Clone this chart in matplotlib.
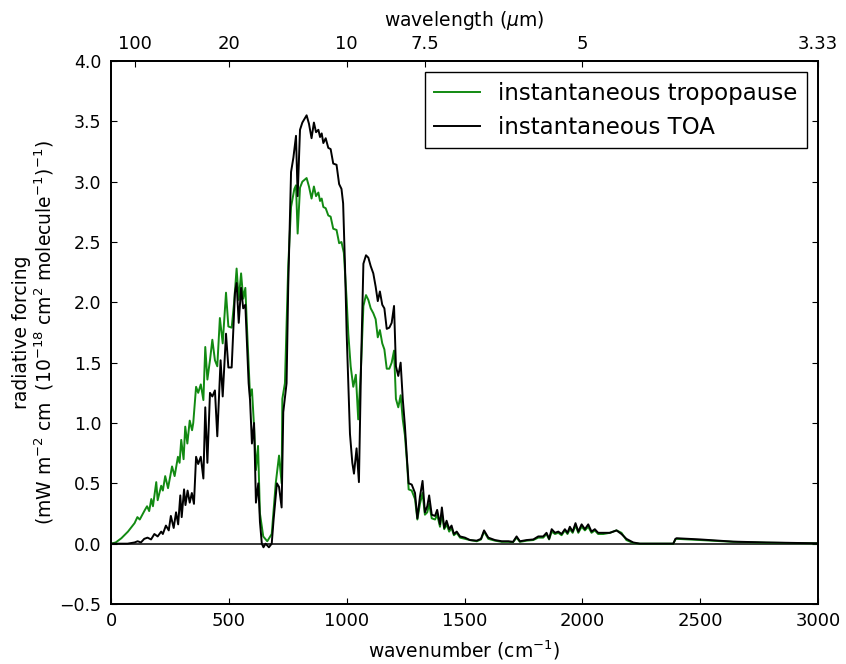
import matplotlib
matplotlib.use("Agg")
import matplotlib.pyplot as plt
import numpy as np

# ---- data ----
wn_trop = [0, 20, 44, 72, 100, 112, 122, 133, 144, 153, 162, 171, 178, 192, 198, 213, 220, 230, 242,
           259, 270, 284, 291, 298, 308, 315, 324, 334, 344, 349, 361, 370, 381, 392, 400, 409, 420,
           430, 441, 451, 462, 474, 488, 498, 512, 522, 533, 542, 552, 561, 570, 578, 590, 598, 607,
           615, 624, 632, 646, 663, 682, 699, 713, 724, 727, 738, 752, 764, 778, 785, 792, 802, 812,
           830, 840, 851, 861, 870, 880, 887, 894, 901, 911, 922, 932, 943, 957, 968, 978, 988, 1000,
           1007, 1017, 1028, 1039, 1049, 1061, 1071, 1082, 1092, 1102, 1113, 1123, 1132, 1141, 1151,
           1160, 1170, 1181, 1191, 1201, 1209, 1219, 1229, 1238, 1247, 1257, 1263, 1276, 1290, 1300,
           1311, 1322, 1332, 1342, 1350, 1361, 1375, 1384, 1396, 1404, 1414, 1424, 1435, 1445, 1455,
           1467, 1481, 1502, 1523, 1552, 1570, 1583, 1601, 1629, 1658, 1686, 1706, 1721, 1735, 1764,
           1792, 1813, 1834, 1848, 1859, 1870, 1884, 1898, 1912, 1926, 1937, 1947, 1959, 1971, 1983,
           1997, 2011, 2025, 2039, 2053, 2067, 2089, 2117, 2145, 2166, 2187, 2216, 2244, 2300, 2386,
           2395, 2400, 2500, 2640, 2780, 2920, 3000]
rf_trop = [0.0, 0.01, 0.045, 0.10, 0.17, 0.22, 0.20, 0.24, 0.28, 0.31, 0.27, 0.37, 0.31, 0.51, 0.36,
           0.48, 0.44, 0.56, 0.46, 0.64, 0.56, 0.72, 0.67, 0.86, 0.70, 0.97, 0.83, 1.02, 0.94, 1.00,
           1.30, 1.25, 1.32, 1.19, 1.63, 1.36, 1.52, 1.69, 1.52, 1.47, 1.87, 1.66, 2.08, 1.80, 1.79,
           1.99, 2.28, 2.02, 2.24, 2.03, 2.12, 1.75, 1.22, 1.28, 0.97, 0.61, 0.81, 0.25, 0.06, 0.02,
           0.08, 0.50, 0.73, 0.50, 1.20, 1.33, 2.30, 2.79, 2.94, 2.97, 2.57, 2.95, 3.00, 3.03, 2.96,
           2.86, 2.96, 2.88, 2.91, 2.84, 2.86, 2.79, 2.78, 2.72, 2.71, 2.61, 2.60, 2.49, 2.50, 2.41,
           2.02, 1.74, 1.47, 1.30, 1.40, 1.03, 1.47, 1.97, 2.06, 2.02, 1.95, 1.91, 1.86, 1.71, 1.77,
           1.66, 1.61, 1.45, 1.45, 1.50, 1.60, 1.20, 1.13, 1.23, 1.03, 0.90, 0.65, 0.45, 0.44, 0.37,
           0.20, 0.33, 0.42, 0.24, 0.26, 0.33, 0.21, 0.20, 0.24, 0.14, 0.25, 0.12, 0.16, 0.10, 0.13,
           0.07, 0.09, 0.05, 0.04, 0.03, 0.02, 0.035, 0.10, 0.04, 0.025, 0.015, 0.015, 0.012, 0.05,
           0.015, 0.025, 0.03, 0.05, 0.05, 0.08, 0.035, 0.10, 0.08, 0.09, 0.07, 0.11, 0.08, 0.12,
           0.09, 0.15, 0.09, 0.14, 0.11, 0.14, 0.09, 0.11, 0.08, 0.08, 0.09, 0.11, 0.09, 0.03, 0.005,
           0.0, 0.0, 0.0, 0.035, 0.04, 0.03, 0.015, 0.008, 0.004, 0.003]

wn_toa = [0, 70, 100, 113, 127, 141, 155, 170, 184, 198, 213, 220, 233, 245, 254, 266, 276, 285, 294,
          300, 310, 316, 325, 334, 343, 352, 361, 370, 381, 392, 400, 409, 420, 430, 441, 451, 465,
          474, 488, 498, 512, 526, 533, 542, 552, 561, 570, 584, 590, 598, 607, 615, 625, 632, 640,
          647, 656, 670, 682, 690, 704, 713, 724, 731, 745, 752, 764, 774, 785, 792, 802, 812, 830,
          840, 851, 861, 870, 880, 887, 894, 901, 911, 922, 932, 943, 957, 968, 978, 985, 993, 1000,
          1007, 1014, 1024, 1031, 1042, 1052, 1061, 1071, 1082, 1092, 1102, 1113, 1123, 1132, 1141,
          1151, 1160, 1170, 1181, 1191, 1201, 1209, 1219, 1229, 1238, 1247, 1257, 1263, 1276, 1290,
          1300, 1311, 1322, 1332, 1342, 1350, 1361, 1375, 1384, 1396, 1404, 1414, 1424, 1435, 1445,
          1455, 1467, 1481, 1502, 1523, 1552, 1570, 1583, 1601, 1629, 1658, 1686, 1706, 1721, 1735,
          1764, 1792, 1813, 1834, 1848, 1859, 1870, 1884, 1898, 1912, 1926, 1937, 1947, 1959, 1971,
          1983, 1997, 2011, 2025, 2039, 2053, 2067, 2089, 2117, 2145, 2166, 2187, 2216, 2244, 2300,
          2386, 2395, 2400, 2500, 2640, 2780, 2920, 3000]
rf_toa = [0.0, 0.0, 0.01, 0.02, 0.01, 0.04, 0.05, 0.035, 0.08, 0.06, 0.10, 0.08, 0.15, 0.11, 0.23,
          0.13, 0.26, 0.16, 0.40, 0.22, 0.45, 0.32, 0.44, 0.34, 0.42, 0.33, 0.72, 0.66, 0.72, 0.54,
          1.13, 0.67, 1.25, 1.22, 1.27, 0.89, 1.52, 1.22, 1.74, 1.46, 1.46, 2.08, 2.16, 1.83, 2.12,
          1.95, 1.98, 1.33, 1.19, 0.83, 1.00, 0.34, 0.50, 0.18, 0.0, -0.03, 0.0, -0.03, 0.0, 0.20,
          0.50, 0.47, 0.30, 1.09, 1.33, 2.13, 3.08, 3.20, 3.38, 2.88, 3.43, 3.49, 3.55, 3.48, 3.36,
          3.49, 3.41, 3.43, 3.37, 3.40, 3.32, 3.36, 3.28, 3.27, 3.15, 3.14, 2.98, 2.94, 2.82, 2.30,
          1.74, 1.33, 0.91, 0.67, 0.58, 0.79, 0.51, 1.47, 2.32, 2.39, 2.37, 2.30, 2.24, 2.13, 2.01,
          2.09, 1.98, 1.95, 1.78, 1.79, 1.83, 1.97, 1.47, 1.39, 1.50, 1.20, 0.98, 0.67, 0.50, 0.49,
          0.42, 0.21, 0.39, 0.52, 0.26, 0.31, 0.40, 0.24, 0.23, 0.28, 0.16, 0.30, 0.13, 0.19, 0.12,
          0.15, 0.08, 0.10, 0.06, 0.05, 0.03, 0.025, 0.04, 0.11, 0.05, 0.03, 0.02, 0.02, 0.015, 0.06,
          0.02, 0.03, 0.035, 0.06, 0.06, 0.09, 0.04, 0.12, 0.09, 0.10, 0.08, 0.12, 0.09, 0.14, 0.10,
          0.17, 0.10, 0.16, 0.12, 0.16, 0.10, 0.12, 0.09, 0.09, 0.09, 0.11, 0.08, 0.04, 0.01, 0.0,
          0.0, 0.0, 0.04, 0.045, 0.035, 0.017, 0.01, 0.005, 0.003]

label_trop = "instantaneous tropopause"
label_toa = "instantaneous TOA"

xticks_bottom = [0, 500, 1000, 1500, 2000, 2500, 3000]
yticks = [-0.5, 0.0, 0.5, 1.0, 1.5, 2.0, 2.5, 3.0, 3.5, 4.0]
top_wavelengths = [100, 20, 10, 7.5, 5, 3.333333]
top_labels = ["100", "20", "10", "7.5", "5", "3.33"]

# ---- plotting ----
plt.rcParams.update({
    "font.family": ["DejaVu Sans"],
    "font.size": 13.5,
    "xtick.labelsize": 13,
    "ytick.labelsize": 12.5,
    "xtick.direction": "in",
    "ytick.direction": "in",
    "xtick.major.size": 4,
    "ytick.major.size": 4,
    "xtick.major.pad": 6,
    "ytick.major.pad": 7,
    "axes.linewidth": 1.3,
})

fig = plt.figure(figsize=(8.46, 6.64), dpi=100)
ax = fig.add_axes([111 / 846, 60 / 664, 707 / 846, 543 / 664])

ax.axhline(0.0, color="k", lw=1.1)
ax.plot(wn_trop, rf_trop, color="#128a12", lw=1.4, label=label_trop)
ax.plot(wn_toa, rf_toa, color="k", lw=1.4, label=label_toa)

ax.set_xlim(0, 3000)
ax.set_ylim(-0.5, 4.0)
ax.set_xticks(xticks_bottom)
ax.set_yticks(yticks)
ax.set_yticklabels(["\u22120.5" if v < 0 else f"{v:.1f}" for v in yticks])
ax.tick_params(axis="y", right=True)
ax.tick_params(axis="x", top=False)
ax.set_xlabel("wavenumber (cm$^{-1}$)", labelpad=6)
ax.set_ylabel("radiative forcing\n(mW m$^{-2}$ cm  (10$^{-18}$ cm$^{2}$ molecule$^{-1}$)$^{-1}$)",
              labelpad=2, linespacing=1.1)

ax2 = ax.twiny()
ax2.set_xlim(ax.get_xlim())
ax2.set_xticks([1e4 / w for w in top_wavelengths])
ax2.set_xticklabels(top_labels)
ax2.set_xlabel("wavelength ($\\mu$m)", labelpad=6)

leg = ax.legend(loc="upper right", fontsize=16.5, fancybox=False, framealpha=1.0,
                edgecolor="k", handlelength=2.0, borderaxespad=0.5)
leg.get_frame().set_linewidth(1.0)

fig.savefig("out.png", dpi=100)
